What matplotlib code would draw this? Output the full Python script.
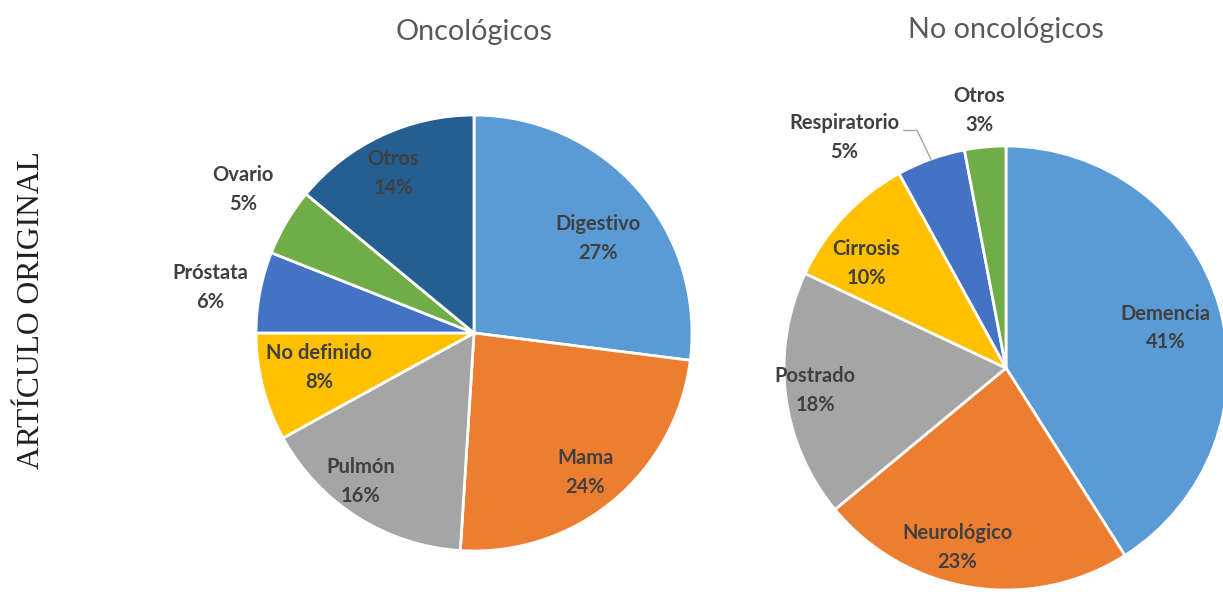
import matplotlib.pyplot as plt
import numpy as np

# left pie: oncologicos
onco_labels = ["Digestivo", "Mama", "Pulmón", "No definido", "Próstata", "Ovario", "Otros"]
onco_values = [27, 24, 16, 8, 6, 5, 14]
onco_colors = ["#5B9BD5", "#ED7D31", "#A5A5A5", "#FFC000", "#4472C4", "#70AD47", "#255E91"]

# right pie: no oncologicos
nonc_labels = ["Demencia", "Neurológico", "Postrado", "Cirrosis", "Respiratorio", "Otros"]
nonc_values = [41, 23, 18, 10, 5, 3]
nonc_colors = ["#5B9BD5", "#ED7D31", "#A5A5A5", "#FFC000", "#4472C4", "#70AD47"]

# label positions in pie-radius units
onco_lpos = [(0.57, 0.435), (0.51, -0.64), (-0.52, -0.68), (-0.71, -0.16),
             (-1.21, 0.21), (-1.06, 0.66), (-0.37, 0.73)]
nonc_lpos = [(0.72, 0.18), (-0.22, -0.81), (-0.86, -0.10), (-0.63, 0.47),
             (-0.73, 1.04), (-0.12, 1.16)]

W, H = 1223, 592
fig = plt.figure(figsize=(W / 100, H / 100), dpi=100)
fig.patch.set_facecolor("white")

lab_font = "Lato"
txt_col = "#404040"


def make_pie(cx, cy, r, values, colors, labels, lpos, title, title_y):
    ax = fig.add_axes([(cx - r) / W, (H - cy - r) / H, 2 * r / W, 2 * r / H])
    wedges, _ = ax.pie(values, colors=colors, startangle=90, counterclock=False,
                       wedgeprops=dict(edgecolor="white", linewidth=2))
    ax.set_xlim(-1, 1)
    ax.set_ylim(-1, 1)
    ax.axis("off")
    for lab, v, (x, y) in zip(labels, values, lpos):
        ax.text(x, y, f"{lab}\n{v}%", ha="center", va="center", fontsize=14.5,
                fontweight="bold", color=txt_col, family=lab_font, linespacing=1.55)
    fig.text(cx / W, 1 - title_y / H, title, ha="center", va="center",
             fontsize=20.7, color="#595959", family=lab_font)
    return ax, wedges


make_pie(474, 333, 218, onco_values, onco_colors, onco_labels, onco_lpos,
         "Oncológicos", 32)
ax2, w2 = make_pie(1006, 368, 222, nonc_values, nonc_colors, nonc_labels, nonc_lpos,
                   "No oncológicos", 30)

# leader line for Respiratorio
w = w2[4]
mid = np.deg2rad((w.theta1 + w.theta2) / 2)
ex, ey = np.cos(mid), np.sin(mid)
ax2.plot([-0.46, -0.40, ex * 1.0], [1.07, 1.07, ey * 1.0], color="#A6A6A6",
         lw=1, clip_on=False)

fig.text(32 / W, 1 - 310 / H, "ARTÍCULO ORIGINAL", rotation=90, ha="center",
         va="center", fontsize=22.8, family="Liberation Serif", color="#231F20")

fig.savefig("out.png", dpi=100)
